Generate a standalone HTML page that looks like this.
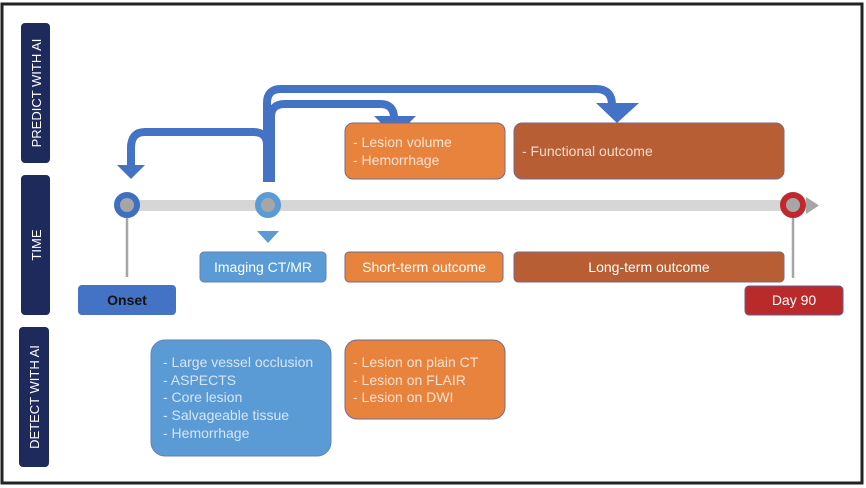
<!DOCTYPE html>
<html><head><meta charset="utf-8"><style>
html,body{margin:0;padding:0;background:#fff}
svg{display:block}
text{font-family:"Liberation Sans",sans-serif}
</style></head><body>
<svg width="866" height="488" viewBox="0 0 866 488" xmlns="http://www.w3.org/2000/svg">
<rect x="2" y="4" width="860" height="479" fill="#fff" stroke="#222" stroke-width="3"/>
<rect x="21" y="23" width="29" height="140" rx="4" fill="#1f2a5c"/>
<text transform="translate(41,93) rotate(-90)" text-anchor="middle" fill="#fff" font-size="13">PREDICT WITH AI</text>
<rect x="21" y="175" width="29" height="140" rx="4" fill="#1f2a5c"/>
<text transform="translate(41,245) rotate(-90)" text-anchor="middle" fill="#fff" font-size="13">TIME</text>
<rect x="19" y="327" width="30" height="140" rx="4" fill="#1f2a5c"/>
<text transform="translate(39,397) rotate(-90)" text-anchor="middle" fill="#fff" font-size="13">DETECT WITH AI</text>
<rect x="128" y="200" width="672" height="11" fill="#d6d6d6"/>
<polygon points="806,197 819,205.5 806,214" fill="#a6a6a6"/>
<line x1="127" y1="210" x2="127" y2="277" stroke="#a6a6a6" stroke-width="2.5"/>
<line x1="793" y1="210" x2="793" y2="278" stroke="#a6a6a6" stroke-width="2.5"/>
<circle cx="127" cy="205" r="10" fill="#a6a6a6" stroke="#3f6fc0" stroke-width="6"/>
<circle cx="268" cy="205" r="10" fill="#a6a6a6" stroke="#5b9bd5" stroke-width="6"/>
<circle cx="793" cy="205" r="10" fill="#a6a6a6" stroke="#c0282d" stroke-width="6"/>
<polygon points="257,231 279,231 268,243" fill="#5b9bd5"/>
<g fill="none" stroke="#4472c4" stroke-width="8">
<path d="M267,182 V103 Q267,89 281,89 H596 Q612,89 612,105 V106"/>
<path d="M271,182 V117 Q271,104 285,104 H380 Q394,104 394,118 V120"/>
<path d="M267,182 V145 Q267,132 253,132 H145 Q131,132 131,148 V168"/>
</g>
<polygon points="596,103 639,103 617,123" fill="#4472c4"/>
<polygon points="374,116 416,116 395,137" fill="#4472c4"/>
<polygon points="117,165 145,165 131,179" fill="#4472c4"/>
<rect x="345" y="123" width="160" height="56" rx="8" fill="#e8833d" stroke="#7a6a8a"/>
<text x="353" y="147" fill="#fbe3d2" font-size="14">- Lesion volume</text>
<text x="353" y="165" fill="#fbe3d2" font-size="14">- Hemorrhage</text>
<rect x="514" y="123" width="270" height="56" rx="8" fill="#b85e34" stroke="#7a6a8a"/>
<text x="522" y="156" fill="#f5dccd" font-size="14">- Functional outcome</text>
<rect x="78" y="285" width="98" height="30" rx="4" fill="#4472c4"/>
<text x="127" y="305" text-anchor="middle" fill="#111" font-size="14" font-weight="bold">Onset</text>
<rect x="200" y="252" width="126" height="30" rx="4" fill="#5b9bd5" stroke="#6a7fb0"/>
<text x="263" y="272" text-anchor="middle" fill="#fff" font-size="14">Imaging CT/MR</text>
<rect x="345" y="252" width="158" height="30" rx="4" fill="#e8833d" stroke="#7a6a8a"/>
<text x="424" y="272" text-anchor="middle" fill="#fff" font-size="14">Short-term outcome</text>
<rect x="514" y="252" width="270" height="30" rx="4" fill="#b85e34" stroke="#7a6a8a"/>
<text x="649" y="272" text-anchor="middle" fill="#fff" font-size="14">Long-term outcome</text>
<rect x="745" y="286" width="98" height="29" rx="4" fill="#bb2a2a" stroke="#6a5a8a"/>
<text x="794" y="305" text-anchor="middle" fill="#fff" font-size="14">Day 90</text>
<rect x="151" y="340" width="180" height="116" rx="14" fill="#5b9bd5" stroke="#6a7fb0"/>
<g fill="#d6e6f5" font-size="14">
<text x="163" y="367">- Large vessel occlusion</text>
<text x="163" y="385">- ASPECTS</text>
<text x="163" y="402">- Core lesion</text>
<text x="163" y="420">- Salvageable tissue</text>
<text x="163" y="438">- Hemorrhage</text>
</g>
<rect x="345" y="340" width="160" height="79" rx="12" fill="#e8833d" stroke="#7a6a8a"/>
<g fill="#fbe3d2" font-size="14">
<text x="353" y="367">- Lesion on plain CT</text>
<text x="353" y="385">- Lesion on FLAIR</text>
<text x="353" y="402">- Lesion on DWI</text>
</g>
</svg>
</body></html>
